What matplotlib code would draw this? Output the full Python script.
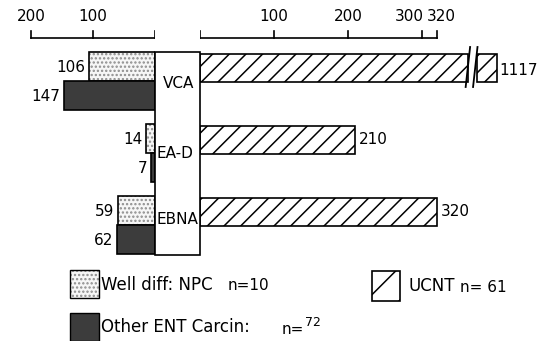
import matplotlib
matplotlib.use("Agg")
import matplotlib.pyplot as plt
from matplotlib.patches import Rectangle

plt.rcParams['font.family'] = ['DejaVu Sans']
plt.rcParams['hatch.linewidth'] = 1.1

# ---- data ----
categories = ['VCA', 'EA-D', 'EBNA']
well_diff = [106, 14, 59]        # Well diff. NPC, n=10 (left, stippled)
other_ent = [147, 7, 62]         # Other ENT carcinomas, n=72 (left, dark)
ucnt = [1117, 210, 320]          # UCNT, n=61 (right, hatched)
left_ticks = [200, 100]
right_ticks = [100, 200, 300, 320]
legend_labels = ['Well diff: NPC', 'Other ENT Carcin:', 'UCNT']
legend_n = ['n=10', 'n=', 'n= 61']

W, H = 538, 341
fig = plt.figure(figsize=(W / 100, H / 100), dpi=100)

sL = 0.62    # px per unit, left scale
sR = 0.74    # px per unit, right scale
x0L = 155    # pixel x of left zero
x0R = 200    # pixel x of right zero

axL = fig.add_axes([0, 0, x0L / W, 1])
axL.set_xlim(x0L / sL, 0)
axL.set_ylim(H, 0)
axR = fig.add_axes([x0R / W, 0, (W - x0R) / W, 1])
axR.set_xlim(0, (W - x0R) / sR)
axR.set_ylim(H, 0)
ov = fig.add_axes([0, 0, 1, 1])
ov.set_xlim(0, W)
ov.set_ylim(H, 0)
for a in (axL, axR, ov):
    a.axis('off')
    a.patch.set_alpha(0)

dark = '#3c3c3c'
stip_face = '#f6f6f6'
stip_dot = '#8c8c8c'
lw = 1.2
row0, step, bh = 52, 72, 29
fs = 11
brk = 362        # where the long UCNT bar is cut
stub_left = 374  # start of the stub after the break
stub_w = 28

for i, cat in enumerate(categories):
    top = row0 + step * i
    # stippled
    axL.barh(top + bh / 2, well_diff[i], height=bh, color=stip_face,
             edgecolor=stip_dot, hatch='....', linewidth=0)
    axL.barh(top + bh / 2, well_diff[i], height=bh, fill=False,
             edgecolor='black', linewidth=lw)
    axL.text(well_diff[i] + 6, top + bh / 2 + 1, str(well_diff[i]),
             ha='right', va='center', fontsize=fs)
    # dark
    axL.barh(top + bh + bh / 2, other_ent[i], height=bh, color=dark,
             edgecolor='black', linewidth=lw)
    axL.text(other_ent[i] + 6, top + bh * 1.5 + 1, str(other_ent[i]),
             ha='right', va='center', fontsize=fs)
    # hatched
    if ucnt[i] > brk:
        axR.barh(top + bh / 2 + 1, brk, height=bh - 1, color='white',
                 edgecolor='black', hatch='//', linewidth=lw)
        axR.barh(top + bh / 2 + 1, stub_w, left=stub_left, height=bh - 1,
                 color='white', edgecolor='black', hatch='//', linewidth=lw)
        for xb in (brk - 1, stub_left - 3):
            axR.plot([xb - 2, xb + 4], [top + bh + 6, top - 5], color='black', lw=1.3)
        axR.text(stub_left + stub_w + 3, top + bh / 2 + 4, str(ucnt[i]),
                 ha='left', va='center', fontsize=fs)
    else:
        axR.barh(top + bh / 2 + 1, ucnt[i], height=bh - 1, color='white',
                 edgecolor='black', hatch='//', linewidth=lw)
        axR.text(ucnt[i] + 5, top + bh / 2 + 1, str(ucnt[i]),
                 ha='left', va='center', fontsize=fs)

# category labels in central box
ov.add_patch(Rectangle((x0L, row0), x0R - x0L, 255 - row0, fill=False,
                       edgecolor='black', linewidth=lw))
lab_pos = [(163, 83), (157, 153), (157, 220)]
for cat, (lx, ly) in zip(categories, lab_pos):
    ov.text(lx, ly, cat, ha='left', va='center', fontsize=fs)

# top scales
ax_y, tk = 38, 7
axL.plot([max(left_ticks), 0], [ax_y, ax_y], color='black', lw=1.2)
for t in [0] + left_ticks:
    axL.plot([t, t], [ax_y, ax_y - tk], color='black', lw=1.2)
for t in left_ticks:
    axL.text(t, 24, str(t), ha='center', va='bottom', fontsize=fs)
axR.plot([0, max(right_ticks)], [ax_y, ax_y], color='black', lw=1.2)
for t in [0] + right_ticks:
    axR.plot([t, t], [ax_y, ax_y - tk], color='black', lw=1.2)
for t in right_ticks[:2]:
    axR.text(t, 24, str(t), ha='center', va='bottom', fontsize=fs)
axR.text(right_ticks[2] + 3, 24, str(right_ticks[2]), ha='right', va='bottom', fontsize=fs)
axR.text(right_ticks[3] - 13, 24, str(right_ticks[3]), ha='left', va='bottom', fontsize=fs)

# legend
ov.add_patch(Rectangle((70, 270), 29, 28, color=stip_face, ec=stip_dot, hatch='....', lw=0))
ov.add_patch(Rectangle((70, 270), 29, 28, fill=False, ec='black', lw=1))
ov.text(101, 285, legend_labels[0], ha='left', va='center', fontsize=12)
ov.text(228, 286, legend_n[0], ha='left', va='center', fontsize=11)
ov.add_patch(Rectangle((70, 313), 29, 28, color=dark, ec='black', lw=1))
ov.text(101, 327, legend_labels[1], ha='left', va='center', fontsize=12)
ov.text(282, 330, legend_n[1], ha='left', va='center', fontsize=11)
ov.text(305, 323, '72', ha='left', va='center', fontsize=9)
ov.add_patch(Rectangle((372, 271), 28, 30, fill=False, ec='black', lw=1.2, hatch='/'))
ov.text(409, 286, legend_labels[2], ha='left', va='center', fontsize=12)
ov.text(460, 287, legend_n[2], ha='left', va='center', fontsize=11)

fig.savefig('out.png', dpi=100)
